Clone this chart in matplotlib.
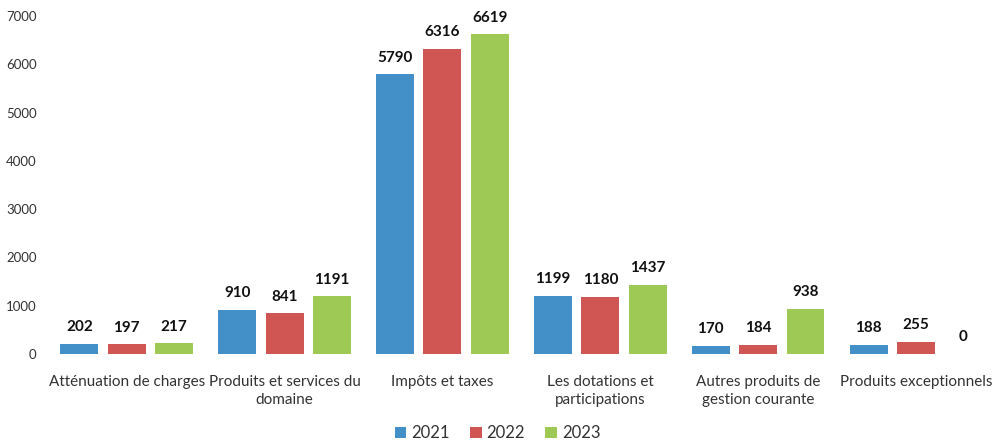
import numpy as np
import matplotlib.pyplot as plt

plt.rcParams['font.family'] = ['Lato', 'DejaVu Sans']

categories = ['Atténuation de charges', 'Produits et services du\ndomaine',
              'Impôts et taxes', 'Les dotations et\nparticipations',
              'Autres produits de\ngestion courante', 'Produits exceptionnels']
years = ['2021', '2022', '2023']
v2021 = [202, 910, 5790, 1199, 170, 188]
v2022 = [197, 841, 6316, 1180, 184, 255]
v2023 = [217, 1191, 6619, 1437, 938, 0]
colors = ['#438fc8', '#cf5652', '#9dc954']

fig = plt.figure(figsize=(9.95, 4.43), dpi=100)
ax = fig.add_axes([0.048, 0.201, 0.952, 0.763])

x = np.arange(len(categories))
step = 0.30
width = 0.24
for i, (vals, yr, c) in enumerate(zip([v2021, v2022, v2023], years, colors)):
    bars = ax.bar(x + (i - 1) * step, vals, width, color=c, label=yr)
    ax.bar_label(bars, labels=[str(v) for v in vals], padding=7,
                 fontsize=11, fontweight='bold', color='#111111')

ax.set_ylim(0, 7000)
ax.set_xlim(-0.5, len(categories) - 0.5)
ax.set_yticks(range(0, 7001, 1000))
ax.set_xticks(x)
ax.set_xticklabels(categories, fontsize=11, color='#333333', linespacing=1.4)
ax.tick_params(axis='y', labelsize=9.5, colors='#333333', length=0, pad=8)
ax.tick_params(axis='x', length=0, pad=15)
for s in ax.spines.values():
    s.set_visible(False)

fig.legend(loc='lower center', ncol=3, bbox_to_anchor=(0.5, -0.03), frameon=False,
           fontsize=12, handlelength=0.7, handleheight=0.7, handletextpad=0.3,
           columnspacing=1.2, labelcolor='#333333')

fig.savefig('out.png')
